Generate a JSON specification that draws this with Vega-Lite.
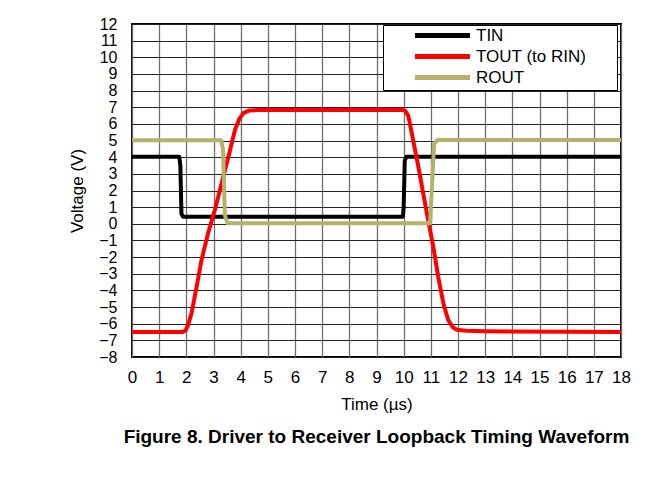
{
  "$schema": "https://vega.github.io/schema/vega-lite/v6.json",
  "width": 489,
  "height": 333,
  "autosize": {"type": "none"},
  "padding": {"left": 132, "top": 24, "right": 39, "bottom": 132},
  "background": "white",
  "title": {
    "text": "Figure 8. Driver to Receiver Loopback Timing Waveform",
    "orient": "bottom",
    "anchor": "middle",
    "font": "Liberation Sans",
    "fontSize": 19,
    "fontWeight": "bold",
    "color": "black",
    "offset": 16
  },
  "config": {
    "view": {"stroke": "black", "strokeWidth": 2},
    "font": "Liberation Sans",
    "legend": {"strokeColor": "black", "fillColor": "white", "padding": 2, "cornerRadius": 0}
  },
  "data": {
    "values": [
      {"series": "TIN", "t": 0, "v": 4.02},
      {"series": "TIN", "t": 1.74, "v": 4.02},
      {"series": "TIN", "t": 1.78, "v": 3.5},
      {"series": "TIN", "t": 1.82, "v": 0.6},
      {"series": "TIN", "t": 1.88, "v": 0.43},
      {"series": "TIN", "t": 9.97, "v": 0.43},
      {"series": "TIN", "t": 10.0, "v": 1.0},
      {"series": "TIN", "t": 10.04, "v": 3.8},
      {"series": "TIN", "t": 10.1, "v": 4.02},
      {"series": "TIN", "t": 18, "v": 4.02},
      {"series": "TOUT (to RIN)", "t": 0, "v": -6.5},
      {"series": "TOUT (to RIN)", "t": 1.85, "v": -6.5},
      {"series": "TOUT (to RIN)", "t": 1.97, "v": -6.42},
      {"series": "TOUT (to RIN)", "t": 2.06, "v": -6.1},
      {"series": "TOUT (to RIN)", "t": 2.19, "v": -5.38},
      {"series": "TOUT (to RIN)", "t": 2.38, "v": -3.78},
      {"series": "TOUT (to RIN)", "t": 2.56, "v": -2.17},
      {"series": "TOUT (to RIN)", "t": 2.8, "v": -0.57},
      {"series": "TOUT (to RIN)", "t": 3.05, "v": 0.83},
      {"series": "TOUT (to RIN)", "t": 3.3, "v": 2.43},
      {"series": "TOUT (to RIN)", "t": 3.55, "v": 4.03},
      {"series": "TOUT (to RIN)", "t": 3.79, "v": 5.63},
      {"series": "TOUT (to RIN)", "t": 3.95, "v": 6.3},
      {"series": "TOUT (to RIN)", "t": 4.1, "v": 6.65},
      {"series": "TOUT (to RIN)", "t": 4.3, "v": 6.8},
      {"series": "TOUT (to RIN)", "t": 4.6, "v": 6.83},
      {"series": "TOUT (to RIN)", "t": 9.93, "v": 6.85},
      {"series": "TOUT (to RIN)", "t": 10.05, "v": 6.8},
      {"series": "TOUT (to RIN)", "t": 10.17, "v": 6.5},
      {"series": "TOUT (to RIN)", "t": 10.35, "v": 5.03},
      {"series": "TOUT (to RIN)", "t": 10.54, "v": 3.43},
      {"series": "TOUT (to RIN)", "t": 10.72, "v": 1.83},
      {"series": "TOUT (to RIN)", "t": 10.9, "v": 0.23},
      {"series": "TOUT (to RIN)", "t": 11.09, "v": -1.37},
      {"series": "TOUT (to RIN)", "t": 11.27, "v": -3.17},
      {"series": "TOUT (to RIN)", "t": 11.46, "v": -4.77},
      {"series": "TOUT (to RIN)", "t": 11.64, "v": -5.78},
      {"series": "TOUT (to RIN)", "t": 11.8, "v": -6.2},
      {"series": "TOUT (to RIN)", "t": 11.95, "v": -6.36},
      {"series": "TOUT (to RIN)", "t": 12.3, "v": -6.43},
      {"series": "TOUT (to RIN)", "t": 13, "v": -6.46},
      {"series": "TOUT (to RIN)", "t": 18, "v": -6.5},
      {"series": "ROUT", "t": 0, "v": 5.02},
      {"series": "ROUT", "t": 3.28, "v": 5.02},
      {"series": "ROUT", "t": 3.35, "v": 4.5},
      {"series": "ROUT", "t": 3.42, "v": 0.5},
      {"series": "ROUT", "t": 3.52, "v": 0.03},
      {"series": "ROUT", "t": 10.97, "v": 0.03},
      {"series": "ROUT", "t": 11.05, "v": 2.5},
      {"series": "ROUT", "t": 11.12, "v": 4.8},
      {"series": "ROUT", "t": 11.25, "v": 5.04},
      {"series": "ROUT", "t": 18, "v": 5.04}
    ]
  },
  "mark": {"type": "line", "strokeWidth": 4, "strokeJoin": "round", "strokeCap": "round", "clip": true},
  "encoding": {
    "x": {
      "field": "t",
      "type": "quantitative",
      "scale": {"domain": [0, 18], "nice": false, "zero": false},
      "axis": {
        "title": "Time (µs)",
        "values": [0,1,2,3,4,5,6,7,8,9,10,11,12,13,14,15,16,17,18],
        "format": "d",
        "tickSize": 0,
        "labelPadding": 12,
        "labelFont": "Liberation Sans",
        "labelFontSize": 17,
        "labelColor": "black",
        "labelFlush": false,
        "labelOverlap": false,
        "domain": false,
        "titleFont": "Liberation Sans",
        "titleFontSize": 17,
        "titleFontWeight": "normal",
        "titleColor": "black",
        "titlePadding": 11,
        "gridColor": "#6e6e6e",
        "gridWidth": 1.3,
        "gridOpacity": 1
      }
    },
    "y": {
      "field": "v",
      "type": "quantitative",
      "scale": {"domain": [-8, 12], "nice": false, "zero": false},
      "axis": {
        "title": "Voltage (V)",
        "values": [-8,-7,-6,-5,-4,-3,-2,-1,0,1,2,3,4,5,6,7,8,9,10,11,12],
        "format": "d",
        "tickSize": 0,
        "labelPadding": 15,
        "labelFont": "Liberation Sans",
        "labelFontSize": 16,
        "labelColor": "black",
        "labelFlush": false,
        "labelOverlap": false,
        "domain": false,
        "titleFont": "Liberation Sans",
        "titleFontSize": 17,
        "titleFontWeight": "normal",
        "titleColor": "black",
        "titlePadding": 12,
        "gridColor": "#222222",
        "gridWidth": 1.2,
        "gridOpacity": 1
      }
    },
    "color": {
      "field": "series",
      "type": "nominal",
      "sort": ["TIN", "TOUT (to RIN)", "ROUT"],
      "scale": {"domain": ["TIN", "TOUT (to RIN)", "ROUT"], "range": ["#000000", "#ff0000", "#b5b16b"]},
      "legend": {
        "title": null,
        "orient": "none",
        "legendX": 251,
        "legendY": 1,
        "direction": "vertical",
        "symbolType": "M-5,0H5",
        "symbolSize": 121,
        "symbolStrokeWidth": 5,
        "symbolOffset": 49,
        "labelOffset": 25,
        "labelFont": "Liberation Sans",
        "labelFontSize": 17,
        "labelColor": "black",
        "labelLimit": 300,
        "labelExpr": "datum.label + '\u00a0\u00a0\u00a0\u00a0\u00a0\u00a0\u200b'",
        "rowPadding": 0
      }
    }
  }
}
